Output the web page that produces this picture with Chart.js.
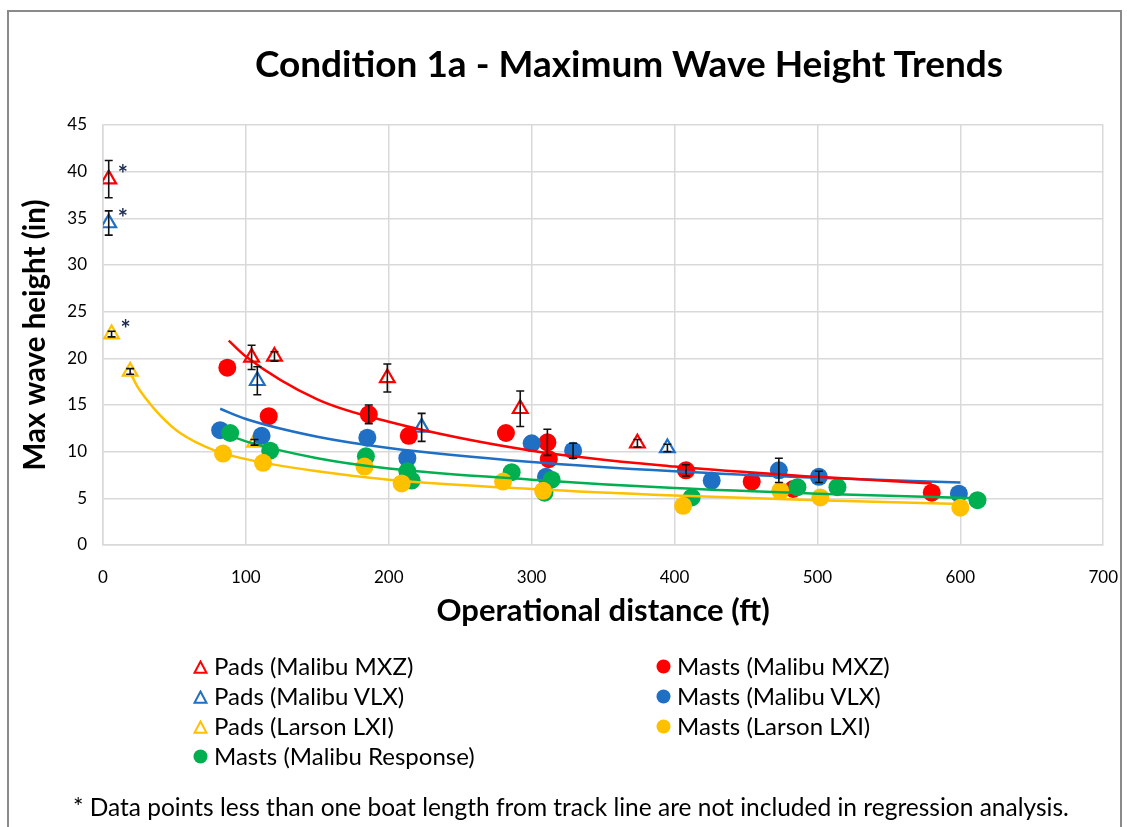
<!DOCTYPE html>
<html>
<head>
<meta charset="utf-8">
<script src="https://cdn.jsdelivr.net/npm/chart.js@4.4.1/dist/chart.umd.min.js"></script>
<style>
  html, body { margin:0; padding:0; background:#fff; }
  body { width:1127px; height:827px; overflow:hidden; position:relative; font-family: Lato, "Liberation Sans", sans-serif; }
  #frame { position:absolute; left:7px; top:10px; width:1111px; height:900px; border:2px solid #8a8a8a; border-bottom:none; }
  #title { position:absolute; left:131px; width:996px; top:40px; text-align:center; font-weight:bold; font-size:37px; color:#000; }
  #wrap { position:absolute; left:0; top:0; width:1140px; height:640px; }
  .leg { position:absolute; font-size:24px; color:#000; white-space:nowrap; line-height:28px; }
  .leg svg { vertical-align:middle; margin-right:6px; position:relative; top:-2px; }
  #note { position:absolute; left:73px; top:792px; font-size:24.5px; color:#000; white-space:nowrap; }
</style>
</head>
<body>
<div id="wrap"><canvas id="c" width="1140" height="640"></canvas></div>
<div id="frame"></div>
<div id="title">Condition 1a - Maximum Wave Height Trends</div>
<div id="legend"></div>
<div id="note">* Data points less than one boat length from track line are not included in regression analysis.</div>
<script>
// ---------- data ----------
const xTicks = [0, 100, 200, 300, 400, 500, 600, 700];
const yTicks = [0, 5, 10, 15, 20, 25, 30, 35, 40, 45];

const padsMXZ_x   = [4, 104, 120, 199, 292, 374];
const padsMXZ_y   = [39.2, 20.1, 20.2, 17.9, 14.6, 10.9];
const padsMXZ_err = [2.0, 1.3, 0.5, 1.5, 1.9, 0.4];

const padsVLX_x   = [4, 108, 223, 395];
const padsVLX_y   = [34.5, 17.6, 12.6, 10.4];
const padsVLX_err = [1.3, 1.5, 1.5, 0.4];

const padsLXI_x   = [6, 19, 106];
const padsLXI_y   = [22.6, 18.6, 11.0];
const padsLXI_err = [0.3, 0.3, 0.3];

const mastsMXZ_x   = [87, 116, 186, 214, 282, 311, 312, 408, 454, 483, 580];
const mastsMXZ_y   = [19.0, 13.8, 14.0, 11.7, 12.0, 11.0, 9.2, 8.0, 6.8, 6.0, 5.6];
const mastsMXZ_err = [0, 0, 1.0, 0, 0, 1.4, 0, 0.6, 0, 0, 0];

const mastsVLX_x   = [82, 111, 185, 213, 300, 310, 329, 426, 473, 501, 599];
const mastsVLX_y   = [12.3, 11.7, 11.5, 9.3, 10.9, 7.3, 10.1, 6.9, 8.0, 7.3, 5.5];
const mastsVLX_err = [0, 0, 0, 0, 0, 0, 0.8, 0, 1.3, 0.6, 0];

const mastsLXI_x = [84, 112, 183, 209, 280, 308, 406, 474, 502, 600];
const mastsLXI_y = [9.8, 8.8, 8.4, 6.6, 6.8, 5.8, 4.2, 5.8, 5.1, 4.0];

const mastsResp_x = [89, 117, 184, 213, 216, 286, 309, 314, 412, 486, 514, 612];
const mastsResp_y = [12.0, 10.1, 9.5, 7.9, 6.9, 7.8, 5.6, 7.0, 5.1, 6.2, 6.2, 4.8];

// trend lines, points
const trendMXZ_x  = [88, 100, 150, 200, 300, 400, 500, 580];
const trendMXZ_y  = [21.9, 20.2, 15.6, 13.2, 10.1, 8.4, 7.3, 6.6];
const trendVLX_x  = [82, 100, 150, 200, 300, 400, 500, 600];
const trendVLX_y  = [14.6, 13.5, 11.6, 10.4, 8.9, 7.9, 7.2, 6.7];
const trendResp_x = [84, 100, 150, 200, 300, 400, 500, 612];
const trendResp_y = [12.0, 11.1, 9.3, 8.2, 7.0, 6.1, 5.5, 5.0];
const trendLXI_x  = [19, 24, 30, 40, 54, 77, 100, 150, 200, 300, 400, 500, 600];
const trendLXI_y  = [18.5, 17.0, 15.7, 13.9, 12.0, 10.2, 9.2, 7.9, 7.0, 6.0, 5.3, 4.8, 4.4];

// points flagged with "*" (index into the pads series)
const starred = [["padsMXZ", 0], ["padsVLX", 0], ["padsLXI", 0]];

// ---------- styling ----------
const RED = "#ff0000", BLUE = "#1f6fc4", GOLD = "#ffc000", GREEN = "#00b050";

function pts(xs, ys, es) { return xs.map((x, i) => ({ x: x, y: ys[i], e: es ? es[i] : 0 })); }

const pointSets = [
  { id: "padsMXZ", label: "Pads (Malibu MXZ)", data: pts(padsMXZ_x, padsMXZ_y, padsMXZ_err), color: RED, tri: true, col: 0, row: 0 },
  { id: "padsVLX", label: "Pads (Malibu VLX)", data: pts(padsVLX_x, padsVLX_y, padsVLX_err), color: BLUE, tri: true, col: 0, row: 1 },
  { id: "padsLXI", label: "Pads (Larson LXI)", data: pts(padsLXI_x, padsLXI_y, padsLXI_err), color: GOLD, tri: true, col: 0, row: 2 },
  { id: "mastsResp", label: "Masts (Malibu Response)", data: pts(mastsResp_x, mastsResp_y), color: GREEN, tri: false, col: 0, row: 3 },
  { id: "mastsMXZ", label: "Masts (Malibu MXZ)", data: pts(mastsMXZ_x, mastsMXZ_y, mastsMXZ_err), color: RED, tri: false, col: 1, row: 0 },
  { id: "mastsVLX", label: "Masts (Malibu VLX)", data: pts(mastsVLX_x, mastsVLX_y, mastsVLX_err), color: BLUE, tri: false, col: 1, row: 1 },
  { id: "mastsLXI", label: "Masts (Larson LXI)", data: pts(mastsLXI_x, mastsLXI_y), color: GOLD, tri: false, col: 1, row: 2 }
];

const drawOrder = ["mastsLXI", "mastsResp", "mastsVLX", "mastsMXZ", "padsLXI", "padsVLX", "padsMXZ"];

const datasets = [];
[[trendMXZ_x, trendMXZ_y, RED], [trendVLX_x, trendVLX_y, BLUE], [trendResp_x, trendResp_y, GREEN], [trendLXI_x, trendLXI_y, GOLD]]
  .forEach(([xs, ys, c]) => datasets.push({
    type: "line", isTrend: true, data: pts(xs, ys), borderColor: c, borderWidth: 2.5,
    pointRadius: 0, fill: false, cubicInterpolationMode: "monotone", order: 0
  }));
pointSets.forEach(s => datasets.push({
  type: "scatter", setId: s.id, label: s.label, data: s.data,
  pointStyle: s.tri ? "triangle" : "circle",
  pointRadius: s.tri ? 8.5 : 9,
  pointBorderWidth: s.tri ? 2.2 : 0,
  borderColor: s.color,
  backgroundColor: s.tri ? "#ffffff" : s.color,
  order: 1 + drawOrder.indexOf(s.id)
}));

const errorBars = {
  id: "errorBars",
  afterDatasetsDraw(chart) {
    const ctx = chart.ctx, xs = chart.scales.x, ys = chart.scales.y;
    ctx.save();
    ctx.strokeStyle = "#111";
    ctx.lineWidth = 1.6;
    chart.data.datasets.forEach(ds => {
      if (ds.isTrend) return;
      ds.data.forEach(p => {
        if (!p.e) return;
        const px = xs.getPixelForValue(p.x);
        const y1 = ys.getPixelForValue(p.y + p.e), y2 = ys.getPixelForValue(p.y - p.e);
        ctx.beginPath();
        ctx.moveTo(px, y1); ctx.lineTo(px, y2);
        ctx.moveTo(px - 4, y1); ctx.lineTo(px + 4, y1);
        ctx.moveTo(px - 4, y2); ctx.lineTo(px + 4, y2);
        ctx.stroke();
      });
    });
    // asterisks next to excluded points
    ctx.fillStyle = "#1a2a50";
    ctx.font = "bold 24px Lato, sans-serif";
    ctx.textBaseline = "middle";
    starred.forEach(([id, i]) => {
      const ds = chart.data.datasets.find(d => d.setId === id);
      const p = ds.data[i];
      ctx.fillText("*", xs.getPixelForValue(p.x) + 9, ys.getPixelForValue(p.y) - 4);
    });
    ctx.restore();
  }
};

new Chart(document.getElementById("c"), {
  data: { datasets: datasets },
  plugins: [errorBars],
  options: {
    responsive: false,
    animation: false,
    layout: { padding: { left: 0, right: 0, top: 125, bottom: 0 } },
    plugins: { legend: { display: false }, title: { display: false }, tooltip: { enabled: false } },
    scales: {
      x: {
        type: "linear", min: 0, max: 700,
        afterBuildTicks: s => { s.ticks = xTicks.map(v => ({ value: v })); },
        afterFit: s => { s.height = 95; },
        grid: { color: "#d9d9d9", lineWidth: 1.5, drawTicks: false },
        border: { color: "#d9d9d9", width: 1.5 },
        ticks: { color: "#000", font: { family: "Lato", size: 17 }, padding: 22 },
        title: { display: true, text: "Operational distance (ft)", color: "#000",
                 font: { family: "Lato", size: 31, weight: "bold" }, padding: { top: 0, bottom: 10 } }
      },
      y: {
        type: "linear", min: 0, max: 45,
        afterBuildTicks: s => { s.ticks = yTicks.map(v => ({ value: v })); },
        afterFit: s => { s.width = 103; },
        grid: { color: "#d9d9d9", lineWidth: 1.5, drawTicks: false },
        border: { color: "#d9d9d9", width: 1.5 },
        ticks: { color: "#000", font: { family: "Lato", size: 17 }, padding: 16 },
        title: { display: true, text: "Max wave height (in)", color: "#000",
                 font: { family: "Lato", size: 29.5, weight: "bold" }, padding: { top: 18, bottom: 0 } }
      }
    }
  }
});

// ---------- legend (HTML, built from the same series list) ----------
const legend = document.getElementById("legend");
pointSets.forEach(s => {
  const d = document.createElement("div");
  d.className = "leg";
  d.style.left = (s.col === 0 ? 193 : 656) + "px";
  d.style.top = (652 + s.row * 30) + "px";
  const mark = s.tri
    ? `<svg width="15" height="14"><polygon points="7.5,1.5 13.5,12.8 1.5,12.8" fill="#fff" stroke="${s.color}" stroke-width="2"/></svg>`
    : `<svg width="15" height="15"><circle cx="7.5" cy="7.5" r="7" fill="${s.color}"/></svg>`;
  d.innerHTML = mark + s.label;
  legend.appendChild(d);
});
</script>
</body>
</html>
